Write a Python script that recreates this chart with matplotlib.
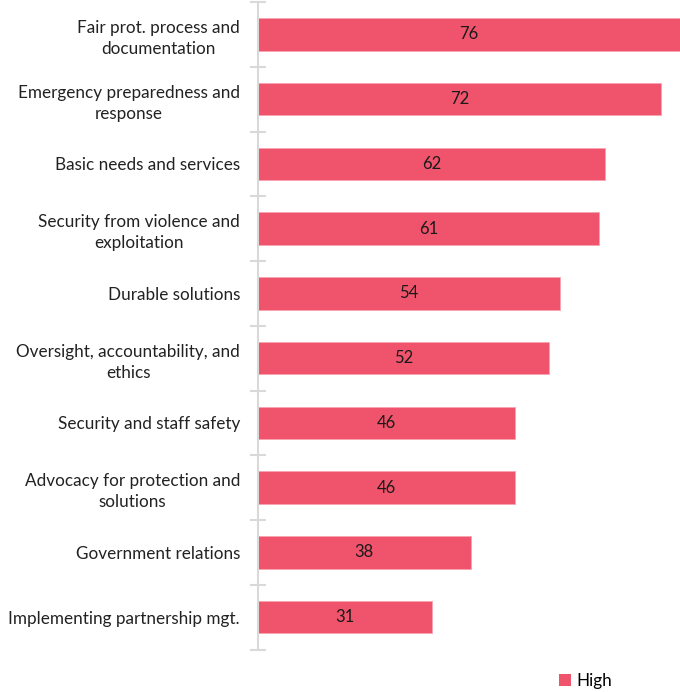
import matplotlib.pyplot as plt
from matplotlib.patches import Patch

categories = [
    "Fair prot. process and\ndocumentation",
    "Emergency preparedness and\nresponse",
    "Basic needs and services",
    "Security from violence and\nexploitation",
    "Durable solutions",
    "Oversight, accountability, and\nethics",
    "Security and staff safety",
    "Advocacy for protection and\nsolutions",
    "Government relations",
    "Implementing partnership mgt.",
]
values = [76, 72, 62, 61, 54, 52, 46, 46, 38, 31]

bar_color = "#F0546C"
axis_gray = "#D9D9D9"

plt.rcParams['font.family'] = ['Lato', 'DejaVu Sans']

fig = plt.figure(figsize=(6.8, 6.92), dpi=100)
ax = fig.add_axes([258 / 680, 1 - 649.5 / 692, 422 / 680, 647.5 / 692])

pos = list(range(len(values)))
ax.barh(pos, values, height=0.5, color=bar_color, edgecolor="#F7A3B0", linewidth=0.6)

xmax = 75.4
for p, v in zip(pos, values):
    ax.text(min(v, xmax) / 2, p, str(v), ha="center", va="center",
            fontsize=12, color="#1a1a1a")

ax.set_xlim(0, xmax)
ax.set_ylim(len(values) - 0.5, -0.5)

ax.set_yticks(pos)
ax.set_yticklabels(categories, fontsize=12.3, color="#222222", linespacing=1.4,
                   multialignment="center")
ax.tick_params(axis="y", which="major", length=0, pad=13)
ax.set_yticks([i - 0.5 for i in range(len(values) + 1)], minor=True)
ax.tick_params(axis="y", which="minor", length=11, width=1.5, direction="inout",
               color=axis_gray)
ax.set_xticks([])

for s in ["top", "right", "bottom"]:
    ax.spines[s].set_visible(False)
ax.spines["left"].set_color(axis_gray)
ax.spines["left"].set_linewidth(1.5)

fig.legend(handles=[Patch(facecolor=bar_color, label="High")],
           loc="center left", bbox_to_anchor=(544 / 680, 1 - 681 / 692),
           frameon=False, fontsize=12.3, handlelength=0.7, handleheight=0.7,
           handletextpad=0.3)

fig.savefig("out.png", dpi=100)
